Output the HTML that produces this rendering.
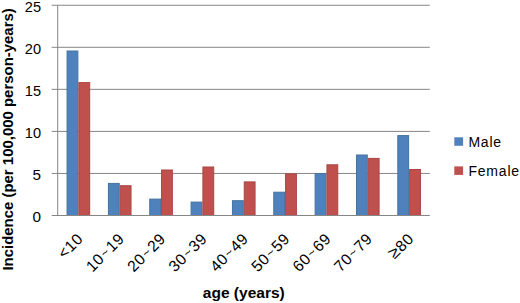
<!DOCTYPE html>
<html><head><meta charset="utf-8"><style>
html,body{margin:0;padding:0;background:#fff;}
body{width:520px;height:303px;overflow:hidden;}
svg{display:block;}
.t{font-family:"Liberation Sans",sans-serif;font-size:14px;fill:#000;}
.lg{letter-spacing:0.8px;}
.xl{font-family:"Liberation Sans",sans-serif;font-size:15.6px;letter-spacing:0.45px;fill:#000;}
.yl{font-family:"Liberation Sans",sans-serif;font-size:15.3px;fill:#000;}
.b{font-family:"Liberation Sans",sans-serif;font-size:14.5px;font-weight:bold;fill:#000;}
</style></head><body>
<svg width="520" height="303" viewBox="0 0 520 303">
<line x1="51.7" y1="173.45" x2="429.80" y2="173.45" stroke="#868686" stroke-width="1"/>
<line x1="51.7" y1="131.40" x2="429.80" y2="131.40" stroke="#868686" stroke-width="1"/>
<line x1="51.7" y1="89.35" x2="429.80" y2="89.35" stroke="#868686" stroke-width="1"/>
<line x1="51.7" y1="47.30" x2="429.80" y2="47.30" stroke="#868686" stroke-width="1"/>
<line x1="51.7" y1="5.25" x2="429.80" y2="5.25" stroke="#868686" stroke-width="1"/>
<rect x="67.06" y="51.00" width="10.81" height="164.50" fill="#4F81BD" stroke="#44729f" stroke-width="1"/>
<rect x="78.87" y="82.60" width="10.81" height="132.90" fill="#C0504D" stroke="#a84643" stroke-width="1"/>
<rect x="108.40" y="183.40" width="10.81" height="32.10" fill="#4F81BD" stroke="#44729f" stroke-width="1"/>
<rect x="120.22" y="185.70" width="10.81" height="29.80" fill="#C0504D" stroke="#a84643" stroke-width="1"/>
<rect x="149.75" y="199.10" width="10.81" height="16.40" fill="#4F81BD" stroke="#44729f" stroke-width="1"/>
<rect x="161.56" y="170.00" width="10.81" height="45.50" fill="#C0504D" stroke="#a84643" stroke-width="1"/>
<rect x="191.09" y="202.10" width="10.81" height="13.40" fill="#4F81BD" stroke="#44729f" stroke-width="1"/>
<rect x="202.91" y="167.00" width="10.81" height="48.50" fill="#C0504D" stroke="#a84643" stroke-width="1"/>
<rect x="232.44" y="200.70" width="10.81" height="14.80" fill="#4F81BD" stroke="#44729f" stroke-width="1"/>
<rect x="244.25" y="181.90" width="10.81" height="33.60" fill="#C0504D" stroke="#a84643" stroke-width="1"/>
<rect x="273.78" y="192.20" width="10.81" height="23.30" fill="#4F81BD" stroke="#44729f" stroke-width="1"/>
<rect x="285.59" y="173.90" width="10.81" height="41.60" fill="#C0504D" stroke="#a84643" stroke-width="1"/>
<rect x="315.13" y="173.70" width="10.81" height="41.80" fill="#4F81BD" stroke="#44729f" stroke-width="1"/>
<rect x="326.94" y="164.80" width="10.81" height="50.70" fill="#C0504D" stroke="#a84643" stroke-width="1"/>
<rect x="356.47" y="155.00" width="10.81" height="60.50" fill="#4F81BD" stroke="#44729f" stroke-width="1"/>
<rect x="368.28" y="158.40" width="10.81" height="57.10" fill="#C0504D" stroke="#a84643" stroke-width="1"/>
<rect x="397.82" y="135.60" width="10.81" height="79.90" fill="#4F81BD" stroke="#44729f" stroke-width="1"/>
<rect x="409.63" y="169.50" width="10.81" height="46.00" fill="#C0504D" stroke="#a84643" stroke-width="1"/>
<line x1="51.7" y1="215.50" x2="429.80" y2="215.50" stroke="#868686" stroke-width="1"/>
<line x1="57.70" y1="5.25" x2="57.70" y2="216.00" stroke="#868686" stroke-width="1"/>
<text x="41" y="222.10" text-anchor="end" class="yl">0</text>
<text x="41" y="180.05" text-anchor="end" class="yl">5</text>
<text x="41" y="138.00" text-anchor="end" class="yl" textLength="16.2" lengthAdjust="spacingAndGlyphs">10</text>
<text x="41" y="95.95" text-anchor="end" class="yl" textLength="16.2" lengthAdjust="spacingAndGlyphs">15</text>
<text x="41" y="53.90" text-anchor="end" class="yl" textLength="16.2" lengthAdjust="spacingAndGlyphs">20</text>
<text x="41" y="11.85" text-anchor="end" class="yl" textLength="16.2" lengthAdjust="spacingAndGlyphs">25</text>
<text transform="translate(83.87,239.80) rotate(-45)" x="0" y="0" text-anchor="end" class="xl">&lt;10</text>
<text transform="translate(125.22,239.80) rotate(-45)" x="0" y="0" text-anchor="end" class="xl">10<tspan dx="1" dy="-1" font-size="12.5">~</tspan><tspan dx="1.2" dy="1">19</tspan></text>
<text transform="translate(166.56,239.80) rotate(-45)" x="0" y="0" text-anchor="end" class="xl">20<tspan dx="1" dy="-1" font-size="12.5">~</tspan><tspan dx="1.2" dy="1">29</tspan></text>
<text transform="translate(207.91,239.80) rotate(-45)" x="0" y="0" text-anchor="end" class="xl">30<tspan dx="1" dy="-1" font-size="12.5">~</tspan><tspan dx="1.2" dy="1">39</tspan></text>
<text transform="translate(249.25,239.80) rotate(-45)" x="0" y="0" text-anchor="end" class="xl">40<tspan dx="1" dy="-1" font-size="12.5">~</tspan><tspan dx="1.2" dy="1">49</tspan></text>
<text transform="translate(290.59,239.80) rotate(-45)" x="0" y="0" text-anchor="end" class="xl">50<tspan dx="1" dy="-1" font-size="12.5">~</tspan><tspan dx="1.2" dy="1">59</tspan></text>
<text transform="translate(331.94,239.80) rotate(-45)" x="0" y="0" text-anchor="end" class="xl">60<tspan dx="1" dy="-1" font-size="12.5">~</tspan><tspan dx="1.2" dy="1">69</tspan></text>
<text transform="translate(373.28,239.80) rotate(-45)" x="0" y="0" text-anchor="end" class="xl">70<tspan dx="1" dy="-1" font-size="12.5">~</tspan><tspan dx="1.2" dy="1">79</tspan></text>
<text transform="translate(414.63,239.80) rotate(-45)" x="0" y="0" text-anchor="end" class="xl"><tspan font-size="17.5">&#8805;</tspan>80</text>
<rect x="454.3" y="137.3" width="8.8" height="8.5" fill="#4F81BD"/>
<rect x="454.3" y="166.4" width="8.8" height="8.5" fill="#C0504D"/>
<text x="468.4" y="147" class="t lg">Male</text>
<text x="468.4" y="176.2" class="t lg">Female</text>
<text transform="translate(13,270.6) rotate(-90)" x="0" y="0" class="b" style="font-size:14.95px">Incidence (per 100,000 person-years)</text>
<text x="243.8" y="297.6" text-anchor="middle" class="b" style="font-size:15.5px">age (years)</text>
</svg>
</body></html>
